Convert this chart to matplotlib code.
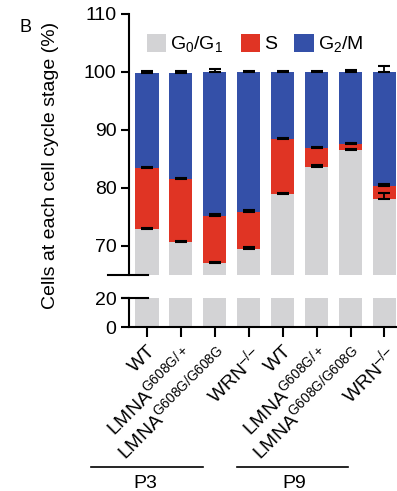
import matplotlib
matplotlib.use("Agg")
import matplotlib.pyplot as plt
import matplotlib.transforms as mtrans
import numpy as np

plt.rcParams['font.family'] = ['Liberation Sans', 'DejaVu Sans']
plt.rcParams['mathtext.fontset'] = 'custom'
plt.rcParams['mathtext.rm'] = 'Liberation Sans'
plt.rcParams['mathtext.it'] = 'Liberation Sans'

wrn = 'WRN$^{\\mathregular{\u2013/\u2013}}$'
labels = ['WT', r'LMNA$^{\mathregular{G608G/+}}$', r'LMNA$^{\mathregular{G608G/G608G}}$', wrn,
          'WT', r'LMNA$^{\mathregular{G608G/+}}$', r'LMNA$^{\mathregular{G608G/G608G}}$', wrn]
g1 = [72.9, 70.6, 67.0, 69.5, 79.0, 83.7, 86.6, 78.1]
s = [10.6, 10.9, 8.2, 6.4, 9.4, 3.2, 0.9, 2.2]
g2m = [16.4, 18.4, 24.8, 24.1, 11.6, 13.1, 12.5, 19.7]
g1_err = [0.2, 0.2, 0.3, 0.3, 0.2, 0.2, 0.2, 1.0]
s_err = [0.2, 0.2, 0.3, 0.3, 0.3, 0.2, 0.2, 0.3]
g2m_err = [0.2, 0.2, 0.5, 0.2, 0.2, 0.2, 0.3, 1.0]
groups = ['P3', 'P9']
group_span = [(-1.65, 1.65), (2.65, 5.94)]
group_text_x = [-0.04, 4.35]

c_g1 = '#d3d3d5'
c_s = '#e03424'
c_g2 = '#3450a8'

x = np.arange(len(g1))
w = 0.68
g1 = np.array(g1); s = np.array(s); g2m = np.array(g2m)

fig = plt.figure(figsize=(3.97, 4.91), dpi=100)
ax = fig.add_axes([0.325, 0.44, 0.675, 0.5315])
ax2 = fig.add_axes([0.325, 0.334, 0.675, 0.059])

ax.bar(x, g1, w, color=c_g1, label=r'G$_0$/G$_1$')
ax.bar(x, s, w, bottom=g1, color=c_s, label='S')
ax.bar(x, g2m, w, bottom=g1 + s, color=c_g2, label=r'G$_2$/M')
ek = dict(fmt='none', ecolor='black', elinewidth=1.3, capsize=4.3, capthick=1.5)
ax.errorbar(x, g1, yerr=[np.zeros(8), g1_err], **ek)
ax.errorbar(x, g1 + s, yerr=[np.zeros(8), s_err], **ek)
ax.errorbar(x, g1 + s + g2m, yerr=[np.zeros(8), g2m_err], **ek)

ax2.bar(x, g1, w, color=c_g1)

for a in (ax, ax2):
    a.set_xlim(-0.53, 7.37)
    for sp in ['top', 'right']:
        a.spines[sp].set_visible(False)
    a.spines['left'].set_linewidth(1.5)
    a.spines['bottom'].set_linewidth(1.5)
    a.tick_params(axis='y', width=1.5, length=6, labelsize=14, pad=3)

ax.set_ylim(65, 110)
ax.set_yticks([70, 80, 90, 100, 110])
ax.spines['bottom'].set_visible(False)
ax.set_xticks([])

ax2.set_ylim(0, 20)
ax2.set_yticks([0, 20])
ax2.set_xticks(x)
ax2.set_xticklabels(labels, rotation=45, ha='right', va='top', rotation_mode='anchor', fontsize=14)
ax2.tick_params(axis='x', width=1.5, length=7, pad=4)

# break marks
ax.plot([-0.08, 0.07], [0, 0], transform=ax.transAxes, color='black', lw=1.5, clip_on=False)
ax2.plot([-0.025, 0.07], [1, 1], transform=ax2.transAxes, color='black', lw=1.5, clip_on=False)

ax.set_ylabel('Cells at each cell cycle stage (%)', fontsize=14)
ax.yaxis.set_label_coords(-0.26, 0.42)

ax.legend(loc='upper center', bbox_to_anchor=(0.47, 0.99), ncol=3, frameon=False, fontsize=14,
          handlelength=1.0, handleheight=1.0, handletextpad=0.2, columnspacing=0.9)

fig.text(0.05, 0.935, 'B', fontsize=13)

tr = mtrans.blended_transform_factory(ax2.transData, fig.transFigure)
for name, (x0, x1), tx in zip(groups, group_span, group_text_x):
    fig.add_artist(plt.Line2D([x0, x1], [0.049, 0.049], transform=tr, color='black', lw=1.2))
    fig.text(tx, 0.016, name, transform=tr, ha='center', va='center', fontsize=14)

fig.savefig('out.png', dpi=100)
